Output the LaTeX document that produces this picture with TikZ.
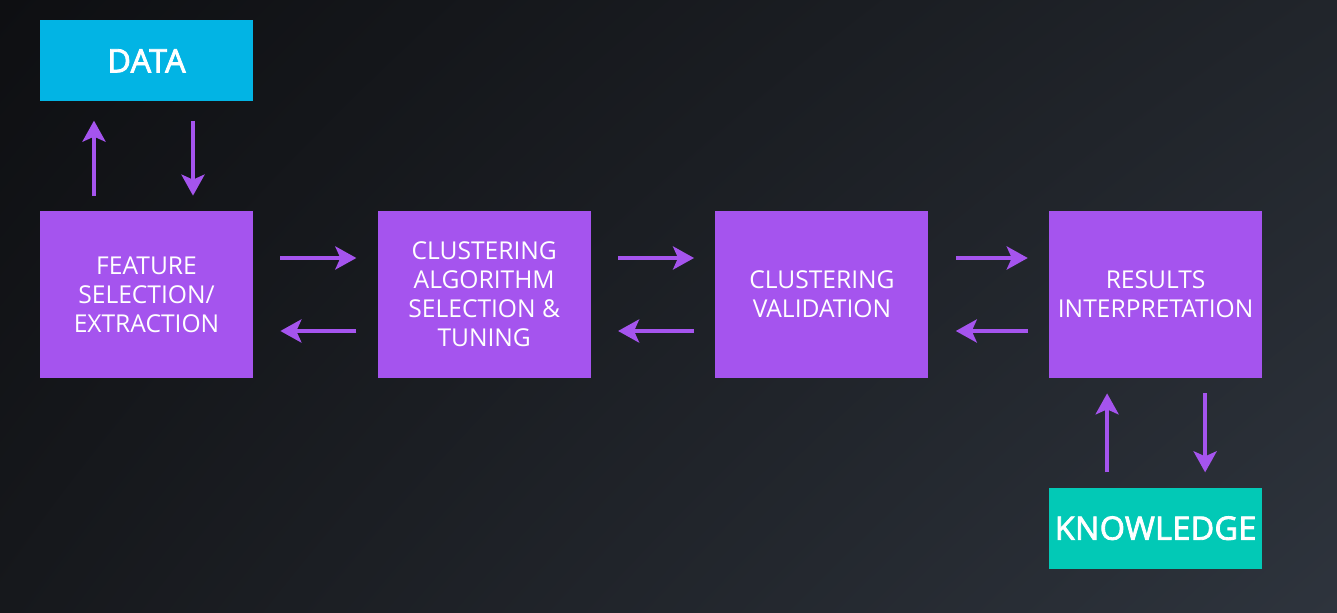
\documentclass[tikz,border=0pt]{standalone}
\usepackage{fontspec}
\setmainfont{Open Sans}
\newfontfamily\semibold[FakeBold=2.5,LetterSpace=1]{Open Sans}
\usetikzlibrary{arrows.meta,positioning,shadings}
\definecolor{boxpurple}{RGB}{165,84,238}
\definecolor{datablue}{RGB}{2,180,228}
\definecolor{knowgreen}{RGB}{2,201,182}
\definecolor{bgul}{RGB}{14,15,18}
\definecolor{bgur}{RGB}{33,37,43}
\definecolor{bgll}{RGB}{22,24,28}
\definecolor{bglr}{RGB}{46,52,61}
\tikzset{node distance=2.48cm, % Gap between two neighbouring blocks
        block/.style={ % Sets the properties for each step of the process
            fill=boxpurple,
            text=white,
            minimum width=4.26cm,
            minimum height=3.34cm,
            align=center,
            font=\fontsize{14}{16.5}\selectfont},
        source/.style={ % Data and knowledge boxes
            block,
            inner xsep=0pt,
            minimum height=1.62cm,
            font=\fontsize{18.4}{20}\selectfont\semibold},
        every edge/.style={ % Sets the properties for each arrow
            draw=boxpurple,
            line width=2.3pt,
            -{Stealth[length=0.42cm,width=0.46cm,inset=0.1cm]},
            shorten <=0.54cm, shorten >=0.42cm},
        back/.style={shorten <=0.42cm, shorten >=0.54cm} % Right-to-left arrows
        }

\begin{document}
\begin{tikzpicture}
    \shade[upper left=bgul, upper right=bgur,
           lower left=bgll, lower right=bglr]
        (0,0) rectangle (26.74,12.24);
    \useasboundingbox (0,0) rectangle (26.74,12.24);

    \node[block] (feat) at (2.93,6.35) {FEATURE\\SELECTION/\\EXTRACTION};
    \node[block] (algo) [right=of feat] {CLUSTERING\\ALGORITHM\\SELECTION \&\\TUNING};
    \node[block] (valid) [right=of algo] {CLUSTERING\\VALIDATION};
    \node[block] (res) [right=2.4cm of valid] {RESULTS\\INTERPRETATION};
    \node[source, fill=datablue] (data) [above=2.18cm of feat] {DATA};
    \node[source, fill=knowgreen] (know) [below=2.18cm of res] {KNOWLEDGE};

    \draw
        ([yshift=0.73cm]feat.east) edge ([yshift=0.73cm]algo.west)
        ([yshift=-0.73cm]algo.west) edge [back] ([yshift=-0.73cm]feat.east)
        ([yshift=0.73cm]algo.east) edge ([yshift=0.73cm]valid.west)
        ([yshift=-0.73cm]valid.west) edge [back] ([yshift=-0.73cm]algo.east)
        ([yshift=0.73cm]valid.east) edge ([yshift=0.73cm]res.west)
        ([yshift=-0.73cm]res.west) edge [back] ([yshift=-0.73cm]valid.east);
    \draw[every edge/.append style={shorten <=0.3cm, shorten >=0.3cm}]
        ([xshift=-1.05cm]feat.north) edge [shorten >=0.38cm] ([xshift=-1.05cm]data.south)
        ([xshift=0.93cm]data.south) edge [shorten <=0.38cm] ([xshift=0.93cm]feat.north)
        ([xshift=-0.97cm]know.north) edge ([xshift=-0.97cm]res.south)
        ([xshift=0.99cm]res.south) edge ([xshift=0.99cm]know.north);
\end{tikzpicture}
\end{document}
